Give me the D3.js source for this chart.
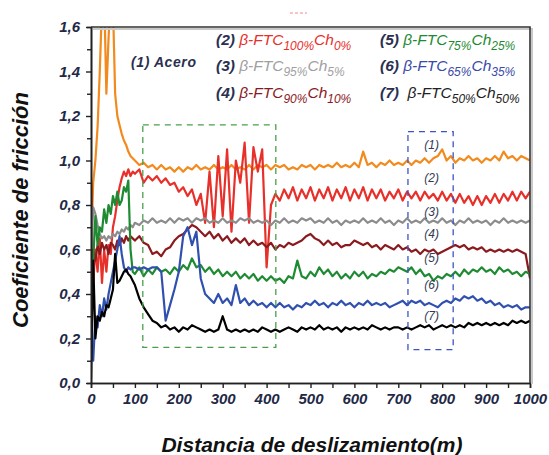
<!DOCTYPE html>
<html>
<head>
<meta charset="utf-8">
<script src="https://cdn.jsdelivr.net/npm/d3@7"></script>
<style>
  body { margin: 0; background: #fff; }
  svg text { font-family: "Liberation Sans", Arial, sans-serif; }
</style>
</head>
<body>
<div id="chart"></div>
<script>
// sample positions (m): every 5 m up to 95, then every 10 m
var dist = d3.range(0, 100, 5).concat(d3.range(100, 1001, 10));

var acero = [0.6, 0.9, 1.0, 1.15, 1.4, 1.7, 1.75, 1.3, 1.55, 1.75, 1.7, 1.3, 1.2, 1.16, 1.12, 1.09, 1.07, 1.04, 1.02, 1.01,
  1.00, 0.98, 0.99, 0.97, 0.98, 0.96, 0.98, 0.96, 0.97, 0.95,
  0.97, 0.95, 0.97, 0.96, 0.98, 0.96, 0.97, 0.96, 0.98, 0.96,
  0.97, 0.96, 0.98, 0.96, 0.97, 0.96, 0.98, 0.96, 0.98, 0.97,
  0.98, 0.96, 0.98, 0.97, 0.98, 0.96, 0.97, 0.96, 0.98, 0.97,
  0.98, 0.96, 0.98, 0.97, 0.98, 0.97, 0.99, 0.97, 0.98, 0.97,
  0.99, 0.97, 1.04, 0.98, 0.99, 0.97, 0.99, 0.98, 1.00, 0.98,
  0.99, 0.98, 1.00, 0.98, 1.00, 0.99, 1.01, 0.99, 1.01, 1.02,
  1.05, 1.00, 1.02, 0.99, 1.01, 1.00, 1.02, 1.00, 1.01, 0.99,
  1.01, 1.00, 1.02, 1.00, 1.04, 1.01, 1.02, 1.00, 1.02, 1.01,
  1.00];

var ftc100 = [0.9, 0.45, 0.6, 0.5, 0.65, 0.45, 0.6, 0.5, 0.62, 0.58, 0.7, 0.75, 0.82, 0.88, 0.92, 0.95, 0.93, 0.96, 0.93, 0.95,
  0.94, 0.96, 0.90, 0.93, 0.91, 0.93, 0.90, 0.92, 0.89, 0.90,
  0.86, 0.88, 0.84, 0.87, 0.80, 0.85, 0.72, 0.95, 0.70, 1.02,
  0.75, 1.05, 0.68, 1.00, 0.90, 1.08, 0.72, 1.06, 0.95, 1.05,
  0.52, 0.80, 0.85, 0.82, 0.87, 0.83, 0.88, 0.82, 0.87, 0.83,
  0.88, 0.82, 0.87, 0.83, 0.88, 0.82, 0.87, 0.83, 0.88, 0.82,
  0.87, 0.83, 0.88, 0.82, 0.87, 0.83, 0.87, 0.82, 0.86, 0.83,
  0.87, 0.82, 0.86, 0.83, 0.86, 0.82, 0.86, 0.83, 0.85, 0.82,
  0.86, 0.82, 0.85, 0.81, 0.85, 0.81, 0.84, 0.80, 0.84, 0.80,
  0.84, 0.81, 0.85, 0.81, 0.85, 0.82, 0.86, 0.82, 0.86, 0.83,
  0.86];

var ftc95 = [0.55, 0.79, 0.76, 0.71, 0.67, 0.65, 0.66, 0.64, 0.66, 0.65, 0.67, 0.66, 0.68, 0.67, 0.69, 0.68, 0.70, 0.69, 0.71, 0.70,
  0.72, 0.71, 0.73, 0.72, 0.74, 0.72, 0.73, 0.72, 0.74, 0.72,
  0.74, 0.73, 0.74, 0.72, 0.74, 0.73, 0.74, 0.72, 0.73, 0.72,
  0.74, 0.72, 0.73, 0.72, 0.74, 0.73, 0.74, 0.72, 0.73, 0.72,
  0.73, 0.71, 0.73, 0.72, 0.74, 0.72, 0.73, 0.72, 0.74, 0.73,
  0.74, 0.72, 0.73, 0.72, 0.74, 0.72, 0.73, 0.71, 0.73, 0.72,
  0.73, 0.72, 0.74, 0.72, 0.73, 0.72, 0.74, 0.72, 0.73, 0.71,
  0.73, 0.72, 0.74, 0.72, 0.73, 0.72, 0.74, 0.72, 0.73, 0.72,
  0.74, 0.72, 0.73, 0.71, 0.73, 0.72, 0.74, 0.72, 0.73, 0.72,
  0.73, 0.71, 0.73, 0.72, 0.74, 0.72, 0.73, 0.72, 0.73, 0.72,
  0.73];

var ftc90 = [0.50, 0.60, 0.55, 0.62, 0.58, 0.63, 0.60, 0.62, 0.58, 0.63, 0.62, 0.60, 0.64, 0.62, 0.65, 0.63, 0.66, 0.64, 0.66, 0.65,
  0.64, 0.66, 0.63, 0.62, 0.58, 0.59, 0.57, 0.60, 0.61, 0.64,
  0.66, 0.67, 0.69, 0.71, 0.70, 0.68, 0.66, 0.68, 0.65, 0.67,
  0.64, 0.66, 0.63, 0.65, 0.63, 0.65, 0.62, 0.64, 0.62, 0.63,
  0.61, 0.63, 0.60, 0.62, 0.61, 0.63, 0.62, 0.63, 0.64, 0.66,
  0.67, 0.65, 0.64, 0.62, 0.64, 0.62, 0.63, 0.61, 0.62, 0.62,
  0.64, 0.63, 0.62, 0.63, 0.61, 0.62, 0.60, 0.62, 0.61, 0.60,
  0.62, 0.60, 0.61, 0.59, 0.60, 0.58, 0.60, 0.59, 0.60, 0.58,
  0.59, 0.60, 0.61, 0.62, 0.61, 0.62, 0.60, 0.61, 0.60, 0.61,
  0.59, 0.60, 0.59, 0.60, 0.59, 0.60, 0.59, 0.60, 0.59, 0.58,
  0.47];

var ftc75 = [0.15, 0.55, 0.75, 0.62, 0.70, 0.68, 0.78, 0.72, 0.80, 0.76, 0.84, 0.80, 0.86, 0.80, 0.82, 0.88, 0.86, 0.91, 0.60, 0.50,
  0.49, 0.52, 0.48, 0.51, 0.49, 0.52, 0.50, 0.51, 0.49, 0.52,
  0.50, 0.53, 0.51, 0.56, 0.52, 0.53, 0.50, 0.52, 0.49, 0.51,
  0.48, 0.50, 0.48, 0.50, 0.47, 0.49, 0.47, 0.49, 0.46, 0.48,
  0.46, 0.48, 0.46, 0.47, 0.45, 0.48, 0.47, 0.55, 0.48, 0.47,
  0.50, 0.48, 0.52, 0.49, 0.51, 0.48, 0.50, 0.47, 0.49, 0.47,
  0.50, 0.48, 0.50, 0.47, 0.49, 0.48, 0.50, 0.49, 0.51, 0.50,
  0.52, 0.51, 0.50, 0.52, 0.49, 0.51, 0.48, 0.49, 0.46, 0.48,
  0.47, 0.49, 0.48, 0.50, 0.48, 0.51, 0.49, 0.51, 0.50, 0.52,
  0.50, 0.51, 0.49, 0.52, 0.50, 0.51, 0.49, 0.50, 0.48, 0.50,
  0.49];

var ftc65 = [0.20, 0.10, 0.30, 0.25, 0.35, 0.30, 0.38, 0.33, 0.40, 0.45, 0.50, 0.55, 0.60, 0.66, 0.58, 0.52, 0.50, 0.52, 0.51, 0.52,
  0.52, 0.51, 0.52, 0.51, 0.52, 0.52, 0.50, 0.28, 0.35, 0.42,
  0.50, 0.66, 0.70, 0.62, 0.68, 0.47, 0.40, 0.38, 0.36, 0.40,
  0.36, 0.38, 0.35, 0.44, 0.36, 0.38, 0.35, 0.37, 0.35, 0.36,
  0.34, 0.36, 0.34, 0.36, 0.34, 0.35, 0.33, 0.35, 0.34, 0.36,
  0.35, 0.37, 0.35, 0.36, 0.34, 0.36, 0.35, 0.37, 0.35, 0.36,
  0.34, 0.36, 0.35, 0.37, 0.35, 0.36, 0.35, 0.36, 0.34, 0.35,
  0.36, 0.37, 0.35, 0.37, 0.36, 0.37, 0.35, 0.36, 0.35, 0.34,
  0.36, 0.37, 0.36, 0.38, 0.37, 0.39, 0.38, 0.39, 0.37, 0.38,
  0.36, 0.37, 0.35, 0.36, 0.34, 0.35, 0.34, 0.35, 0.33, 0.34,
  0.34];

var ftc50 = [0.02, 0.55, 0.20, 0.30, 0.28, 0.32, 0.30, 0.35, 0.34, 0.38, 0.42, 0.58, 0.45, 0.46, 0.48, 0.50, 0.51, 0.49, 0.48, 0.46,
  0.44, 0.38, 0.34, 0.31, 0.28, 0.27, 0.25, 0.26, 0.24, 0.25,
  0.23, 0.25, 0.24, 0.26, 0.25, 0.24, 0.23, 0.24, 0.23, 0.24,
  0.30, 0.24, 0.23, 0.24, 0.23, 0.24, 0.23, 0.24, 0.23, 0.25,
  0.24, 0.23, 0.24, 0.23, 0.24, 0.25, 0.24, 0.23, 0.25, 0.24,
  0.25, 0.24, 0.26, 0.24, 0.25, 0.24, 0.25, 0.23, 0.25, 0.24,
  0.25, 0.24, 0.25, 0.24, 0.26, 0.25, 0.24, 0.25, 0.24, 0.25,
  0.25, 0.24, 0.25, 0.24, 0.25, 0.26, 0.25, 0.26, 0.24, 0.25,
  0.26, 0.25, 0.26, 0.25, 0.26, 0.25, 0.27, 0.26, 0.27, 0.26,
  0.27, 0.26, 0.27, 0.26, 0.27, 0.26, 0.28, 0.27, 0.28, 0.27,
  0.28];

var seriesColors = ["#f28a1e", "#e8302a", "#8c8c8c", "#8b1a1e", "#1e8a32", "#3050b0", "#000000"];
var yTicks = [0, 0.2, 0.4, 0.6, 0.8, 1.0, 1.2, 1.4, 1.6];
var xTicks = [0, 100, 200, 300, 400, 500, 600, 700, 800, 900, 1000];
var curveLabels = ["(1)", "(2)", "(3)", "(4)", "(5)", "(6)", "(7)"];
var curveLabelY = [1.07, 0.92, 0.77, 0.67, 0.56, 0.44, 0.30];

var W = 549, H = 455,
    plotL = 91, plotR = 530, plotT = 27, plotB = 383;

var svg = d3.select("#chart").append("svg")
    .attr("width", W)
    .attr("height", H);

var x = d3.scaleLinear().domain([0, 1000]).range([plotL, plotR]),
    y = d3.scaleLinear().domain([0, 1.6]).range([plotB, plotT]);

svg.append("clipPath").attr("id", "plot-clip")
    .append("rect")
    .attr("x", plotL).attr("y", plotT)
    .attr("width", plotR - plotL).attr("height", plotB - plotT);

// curves, drawn in the order of the legend
var all = [acero, ftc100, ftc95, ftc90, ftc75, ftc65, ftc50];
var line = d3.line()
    .x(function (d, i) { return x(dist[i]); })
    .y(function (d) { return y(d); });

svg.append("g").attr("clip-path", "url(#plot-clip)")
    .selectAll("path")
    .data(all)
    .enter()
    .append("path")
    .attr("d", line)
    .style("fill", "none")
    .style("stroke", function (d, i) { return seriesColors[i]; })
    .style("stroke-width", 2.2)
    .style("stroke-linejoin", "round");

// dashed boxes
svg.append("rect")
    .attr("x", x(118)).attr("y", y(1.16))
    .attr("width", x(421) - x(118)).attr("height", y(0.16) - y(1.16))
    .style("fill", "none").style("stroke", "#4aa04a")
    .style("stroke-width", 1.3).style("stroke-dasharray", "6,5");

svg.append("rect")
    .attr("x", x(722)).attr("y", y(1.13))
    .attr("width", x(825) - x(722)).attr("height", y(0.15) - y(1.13))
    .style("fill", "none").style("stroke", "#3d55c0")
    .style("stroke-width", 1.3).style("stroke-dasharray", "6,5");

svg.selectAll("text.curve-label")
    .data(curveLabels)
    .enter()
    .append("text")
    .classed("curve-label", true)
    .attr("x", x(776))
    .attr("y", function (d, i) { return y(curveLabelY[i]) + 4; })
    .attr("text-anchor", "middle")
    .style("font-size", "12px")
    .style("font-style", "italic")
    .style("fill", "#333a55")
    .text(function (d) { return d; });

// axes
var tickFont = function (g) {
    g.selectAll("text")
        .style("font-size", "15px")
        .style("font-weight", "bold")
        .style("font-style", "italic")
        .style("fill", "#1f2945");
    g.select(".domain").style("stroke", "#222").style("stroke-width", 1.6);
    g.selectAll(".tick line").style("stroke", "#222").style("stroke-width", 1.4);
};

svg.append("g")
    .attr("transform", "translate(" + plotL + ",0)")
    .call(d3.axisLeft(y).tickValues(d3.range(0.1, 1.6, 0.2)).tickSize(4).tickFormat(""))
    .call(tickFont);

svg.append("g")
    .attr("transform", "translate(" + plotL + ",0)")
    .call(d3.axisLeft(y).tickValues(yTicks).tickSize(5).tickPadding(6).tickSizeOuter(0)
        .tickFormat(function (d) { return d.toFixed(1).replace(".", ","); }))
    .call(tickFont);

svg.append("g")
    .attr("transform", "translate(0," + plotB + ")")
    .call(d3.axisBottom(x).tickValues(d3.range(50, 1000, 100)).tickSize(5).tickFormat(""))
    .call(tickFont);

svg.append("g")
    .attr("transform", "translate(0," + plotB + ")")
    .call(d3.axisBottom(x).tickValues(xTicks).tickSize(5).tickPadding(5).tickSizeOuter(0)
        .tickFormat(d3.format("d")))
    .call(tickFont);

// frame top and right with a soft shadow
svg.append("path")
    .attr("d", "M" + (plotL + 2) + "," + (plotT + 2) + "H" + (plotR + 2) + "V" + (plotB + 1))
    .style("fill", "none").style("stroke", "#c8c8c8").style("stroke-width", 2);
svg.append("path")
    .attr("d", "M" + plotL + "," + plotT + "H" + plotR + "V" + plotB)
    .style("fill", "none").style("stroke", "#333").style("stroke-width", 1.6);

// axis titles
svg.append("text")
    .attr("x", 312).attr("y", 452)
    .attr("text-anchor", "middle")
    .style("font-size", "21px").style("font-weight", "bold").style("font-style", "italic")
    .style("fill", "#111")
    .text("Distancia de deslizamiento(m)");

svg.append("text")
    .attr("transform", "translate(28,210) rotate(-90)")
    .attr("text-anchor", "middle")
    .style("font-size", "22px").style("font-weight", "bold").style("font-style", "italic")
    .style("fill", "#111")
    .text("Coeficiente de fricción");

// legend
svg.append("text")
    .attr("x", 131).attr("y", 67)
    .style("font-size", "14px").style("font-weight", "bold").style("font-style", "italic")
    .style("letter-spacing", "0.6px")
    .style("fill", "#2a3050")
    .text("(1) Acero");

var legendItems = [
    { n: "(2) ", a: "100%", b: "0%", col: 0, row: 0, c: "#e8302a" },
    { n: "(3) ", a: "95%", b: "5%", col: 0, row: 1, c: "#a0a0a0" },
    { n: "(4) ", a: "90%", b: "10%", col: 0, row: 2, c: "#8b1a1e" },
    { n: "(5) ", a: "75%", b: "25%", col: 1, row: 0, c: "#1e8a32" },
    { n: "(6) ", a: "65%", b: "35%", col: 1, row: 1, c: "#3a4aa8" },
    { n: "(7)  ", a: "50%", b: "50%", col: 1, row: 2, c: "#222" }
];
var legendX = [216, 380], legendY = [45, 71, 98];

legendItems.forEach(function (it) {
    var t = svg.append("text")
        .attr("x", legendX[it.col]).attr("y", legendY[it.row])
        .style("font-size", "15.5px").style("font-style", "italic")
        .attr("xml:space", "preserve");
    t.append("tspan").style("font-weight", "bold").style("fill", "#2a3050").text(it.n);
    t.append("tspan").style("fill", it.c).text("β-FTC");
    t.append("tspan").style("fill", it.c).style("font-size", "12px").attr("dy", 5).text(it.a);
    t.append("tspan").style("fill", it.c).attr("dy", -5).text("Ch");
    t.append("tspan").style("fill", it.c).style("font-size", "12px").attr("dy", 5).text(it.b);
});

// small red dashes at the top of the figure
svg.append("line")
    .attr("x1", 290).attr("x2", 307).attr("y1", 13).attr("y2", 13)
    .style("stroke", "#f08a8a").style("stroke-width", 1).style("stroke-dasharray", "3,2");
</script>
</body>
</html>
